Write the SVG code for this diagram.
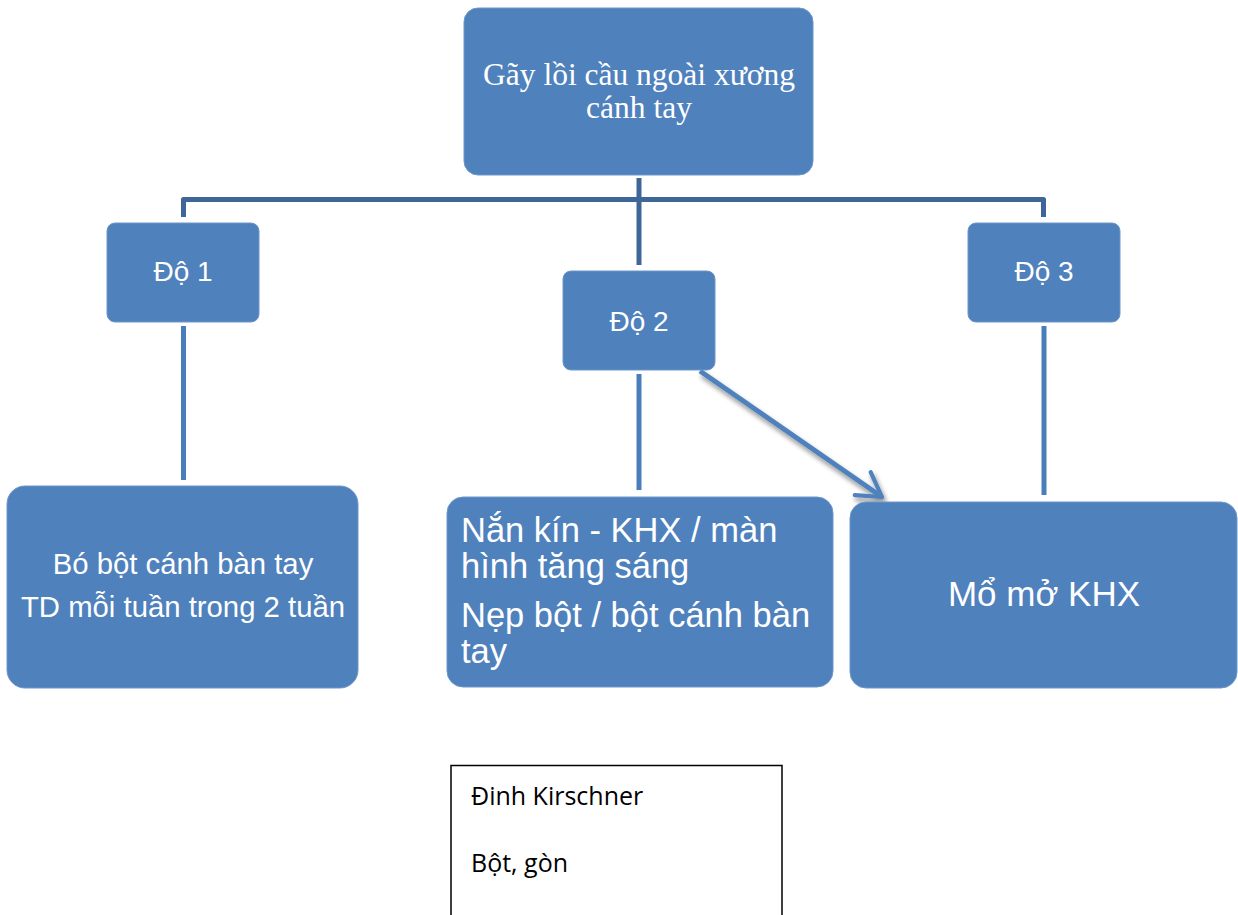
<svg xmlns="http://www.w3.org/2000/svg" width="1238" height="915" viewBox="0 0 1238 915">
  <style>
    .box { fill: #4f81bd; stroke: #6d97c9; stroke-width: 1; }
    .lbl { fill: #ffffff; font-family: "Liberation Sans", Arial, sans-serif; }
    .serif { fill: #ffffff; font-family: "Liberation Serif", "Times New Roman", serif; font-size: 31.5px; }
    .bar { fill: none; stroke: #3f6698; stroke-width: 5; stroke-linejoin: round; }
    .drop { fill: none; stroke: #4a7ebb; stroke-width: 5; }
    .note { fill: #000000; font-family: "Open Sans", "Liberation Sans", sans-serif; font-size: 25px; }
  </style>
  <defs>
    <marker id="chev" viewBox="0 0 10 10" refX="8.5" refY="5" markerWidth="7" markerHeight="7" orient="auto" markerUnits="strokeWidth">
      <path d="M1.8,1 L8.5,5 L1.8,9" fill="none" stroke="#4f81bd" stroke-width="1.2" stroke-linecap="round" stroke-linejoin="round"/>
    </marker>
    <filter id="shadow" x="-20%" y="-20%" width="140%" height="140%">
      <feGaussianBlur in="SourceAlpha" stdDeviation="2.5"/>
      <feOffset dx="2" dy="4" result="b"/>
      <feComponentTransfer><feFuncA type="linear" slope="0.45"/></feComponentTransfer>
      <feMerge><feMergeNode/><feMergeNode in="SourceGraphic"/></feMerge>
    </filter>
  </defs>

  <rect width="1238" height="915" fill="#ffffff"/>

  <!-- connectors -->
  <g id="connectors">
    <path class="bar" d="M183.5,217 V199.5 H1043.5 V217"/>
    <path class="bar" d="M639,178 V265"/>
    <path class="drop" d="M183.5,326 V480"/>
    <path class="drop" d="M639,374 V490"/>
    <path class="drop" d="M1044,326 V495"/>
    <path d="M700,371 L882,497" fill="none" stroke="#4f81bd" stroke-width="5" marker-end="url(#chev)" filter="url(#shadow)"/>
  </g>

  <!-- root -->
  <g id="node-root">
    <rect class="box" x="464" y="8" width="349" height="167" rx="14"/>
    <text class="serif" text-anchor="middle" x="639" y="85">Gãy lồi cầu ngoài xương</text>
    <text class="serif" text-anchor="middle" x="639" y="118">cánh tay</text>
  </g>

  <!-- grades -->
  <g id="node-do1">
    <rect class="box" x="107" y="223" width="152" height="99" rx="8"/>
    <text class="lbl" font-size="28" text-anchor="middle" x="183" y="281">Độ 1</text>
  </g>
  <g id="node-do2">
    <rect class="box" x="563" y="271" width="152" height="99" rx="8"/>
    <text class="lbl" font-size="28" text-anchor="middle" x="639" y="331">Độ 2</text>
  </g>
  <g id="node-do3">
    <rect class="box" x="968" y="223" width="152" height="99" rx="8"/>
    <text class="lbl" font-size="28" text-anchor="middle" x="1044" y="281">Độ 3</text>
  </g>

  <!-- treatments -->
  <g id="node-treat1">
    <rect class="box" x="7" y="486" width="351" height="202" rx="18"/>
    <text class="lbl" font-size="29.3" text-anchor="middle" x="183" y="574">Bó bột cánh bàn tay</text>
    <text class="lbl" font-size="29.3" text-anchor="middle" x="183" y="617">TD mỗi tuần trong 2 tuần</text>
  </g>
  <g id="node-treat2">
    <rect class="box" x="447" y="497" width="386" height="190" rx="16"/>
    <text class="lbl" font-size="34.5" x="461" y="542">Nắn kín - KHX / màn</text>
    <text class="lbl" font-size="34.5" x="461" y="578">hình tăng sáng</text>
    <text class="lbl" font-size="34.5" x="461" y="627">Nẹp bột / bột cánh bàn</text>
    <text class="lbl" font-size="34.5" x="461" y="663">tay</text>
  </g>
  <g id="node-treat3">
    <rect class="box" x="850" y="502" width="387" height="186" rx="16"/>
    <text class="lbl" font-size="35" text-anchor="middle" x="1044" y="606">Mổ mở KHX</text>
  </g>

  <!-- materials note -->
  <g id="node-note">
    <path d="M451,920 V765.5 H782 V920" fill="#ffffff" stroke="#000000" stroke-width="1.5"/>
    <text class="note" x="471" y="805">Đinh Kirschner</text>
    <text class="note" x="471" y="872">Bột, gòn</text>
  </g>
</svg>
